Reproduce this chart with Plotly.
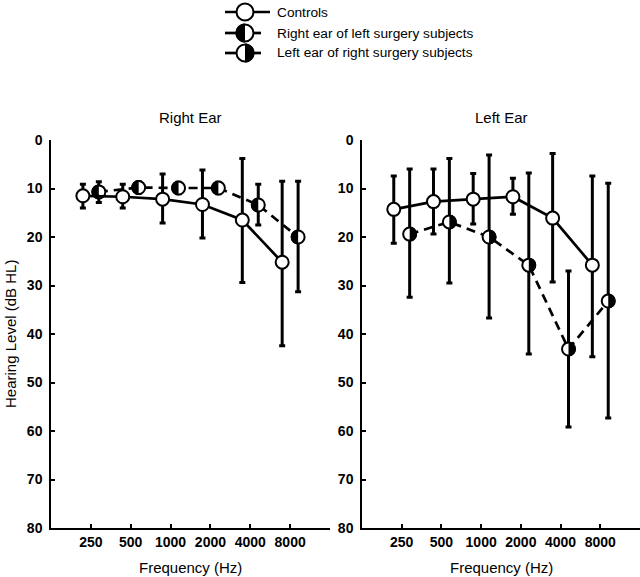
import plotly.graph_objects as go
import numpy as np

# ---------------- data ----------------
freq_labels = ["250", "500", "1000", "2000", "4000", "8000"]

# Right ear panel
re_ctrl_mean = [11.5, 11.7, 12.2, 13.3, 16.5, 25.2]
re_ctrl_top = [9.1, 9.1, 7.0, 6.2, 3.8, 8.5]
re_ctrl_bot = [14.0, 14.0, 17.1, 20.2, 29.4, 42.4]
re_surg_mean = [10.7, 9.8, 9.9, 9.9, 13.4, 20.0]
re_surg_top = [8.6, 8.6, 8.7, 8.7, 9.1, 8.5]
re_surg_bot = [12.9, 11.0, 11.1, 11.1, 17.5, 31.3]

# Left ear panel
le_ctrl_mean = [14.3, 12.7, 12.2, 11.7, 16.1, 25.8]
le_ctrl_top = [7.4, 6.0, 6.9, 7.9, 2.8, 7.4]
le_ctrl_bot = [21.3, 19.4, 17.3, 15.3, 29.3, 44.7]
le_surg_mean = [19.4, 16.9, 20.0, 25.8, 43.1, 33.2]
le_surg_top = [6.0, 3.8, 3.1, 6.8, 27.0, 8.9]
le_surg_bot = [32.4, 29.5, 36.7, 44.1, 59.2, 57.3]

legend_names = ["Controls", "Right ear of left surgery subjects", "Left ear of right surgery subjects"]
panel_titles = ["Right Ear", "Left Ear"]
y_ticks = [0, 10, 20, 30, 40, 50, 60, 70, 80]

# ---------------- layout geometry ----------------
W, H = 640, 577
L, R, T, B = 51, 0, 140, 49
pw = W - L - R
ph = H - T - B


def px(xs):
    return (xs - L) / pw


def py(ys):
    return (H - B - ys) / ph


FONT = "Liberation Sans, Arial, sans-serif"
OFF = 0.2
MS = 13

fig = go.Figure()
shapes = []
annotations = []


def half_path(r, side):
    if side == "left":
        th = np.linspace(np.pi / 2, 3 * np.pi / 2, 25)
    else:
        th = np.linspace(-np.pi / 2, np.pi / 2, 25)
    pts = [f"{r*np.cos(t):.2f},{r*np.sin(t):.2f}" for t in th]
    return "M " + " L ".join(pts) + " Z"


def add_panel(xa, ya, cm, ct, cb, sm, st, sb, side):
    n = len(freq_labels)
    idx = np.arange(n)
    xc = idx - OFF
    xs = idx + OFF
    cm_a, sm_a = np.array(cm), np.array(sm)
    fig.add_trace(go.Scatter(
        x=xs, y=sm_a, xaxis=xa, yaxis=ya, mode="lines+markers",
        line=dict(color="black", width=2.7, dash="9px,6px"),
        marker=dict(symbol="circle", size=MS, color="white", line=dict(color="black", width=2)),
        error_y=dict(type="data", symmetric=False, array=np.array(sb) - sm_a,
                     arrayminus=sm_a - np.array(st), color="black", thickness=3, width=3),
        showlegend=False, hoverinfo="skip"))
    fig.add_trace(go.Scatter(
        x=xc, y=cm_a, xaxis=xa, yaxis=ya, mode="lines+markers",
        line=dict(color="black", width=2.7),
        marker=dict(symbol="circle", size=MS, color="white", line=dict(color="black", width=2)),
        error_y=dict(type="data", symmetric=False, array=np.array(cb) - cm_a,
                     arrayminus=cm_a - np.array(ct), color="black", thickness=3, width=3),
        showlegend=False, hoverinfo="skip"))
    for x, y in zip(xs, sm_a):
        shapes.append(dict(type="path", xref=xa, yref=ya, xsizemode="pixel", ysizemode="pixel",
                           xanchor=float(x), yanchor=float(y), path=half_path(7.3, side),
                           fillcolor="black", line=dict(width=0), layer="above"))


add_panel("x", "y", re_ctrl_mean, re_ctrl_top, re_ctrl_bot,
          re_surg_mean, re_surg_top, re_surg_bot, "left")
add_panel("x2", "y2", le_ctrl_mean, le_ctrl_top, le_ctrl_bot,
          le_surg_mean, le_surg_top, le_surg_bot, "right")

axis_common = dict(showline=True, linecolor="black", linewidth=1.5, ticks="inside",
                   ticklen=4, tickwidth=1.5, tickcolor="black", showgrid=False, zeroline=False,
                   tickfont=dict(family=FONT, size=14, color="black", weight="bold"))

xd1 = [0, px(330)]
xd2 = [px(362), 1]

fig.update_layout(
    width=W, height=H, margin=dict(l=L, r=R, t=T, b=B),
    plot_bgcolor="white", paper_bgcolor="white",
    xaxis=dict(domain=xd1, range=[-1, 6], tickmode="array", tickvals=list(range(len(freq_labels))),
               ticktext=freq_labels, anchor="y", **axis_common),
    yaxis=dict(domain=[0, 1], range=[80, 0], tickmode="array", tickvals=y_ticks,
               anchor="x", ticklabelstandoff=4, **axis_common),
    xaxis2=dict(domain=xd2, range=[-1, 6], tickmode="array", tickvals=list(range(len(freq_labels))),
                ticktext=freq_labels, anchor="y2", **axis_common),
    yaxis2=dict(domain=[0, 1], range=[80, 0], tickmode="array", tickvals=y_ticks,
                anchor="x2", ticklabelstandoff=4, **axis_common),
    showlegend=False,
)

for d, t in zip([xd1, xd2], panel_titles):
    annotations.append(dict(x=(d[0] + d[1]) / 2, y=py(117), xref="paper", yref="paper",
                            text=t, showarrow=False, xanchor="center", yanchor="middle",
                            font=dict(family=FONT, size=15, color="black")))
    annotations.append(dict(x=(d[0] + d[1]) / 2, y=py(567), xref="paper", yref="paper",
                            text="Frequency (Hz)", showarrow=False, xanchor="center", yanchor="middle",
                            font=dict(family=FONT, size=15, color="black")))
annotations.append(dict(x=px(10), y=py(334), xref="paper", yref="paper", text="Hearing Level (dB HL)",
                        textangle=-90, showarrow=False, xanchor="center", yanchor="middle",
                        font=dict(family=FONT, size=15, color="black")))

# manual legend
rows_y = [12, 33, 53]
cx = 245
for i, (name, yy) in enumerate(zip(legend_names, rows_y)):
    if i == 0:
        shapes.append(dict(type="line", xref="paper", yref="paper", x0=px(225), x1=px(270),
                           y0=py(yy), y1=py(yy), line=dict(color="black", width=2.7)))
    else:
        shapes.append(dict(type="line", xref="paper", yref="paper", x0=px(225), x1=px(240),
                           y0=py(yy), y1=py(yy), line=dict(color="black", width=2.7)))
        shapes.append(dict(type="line", xref="paper", yref="paper", x0=px(250), x1=px(261),
                           y0=py(yy), y1=py(yy), line=dict(color="black", width=2.7)))
    shapes.append(dict(type="circle", xref="paper", yref="paper", xsizemode="pixel", ysizemode="pixel",
                       xanchor=px(cx), yanchor=py(yy), x0=-8.5, x1=8.5, y0=-8.5, y1=8.5,
                       fillcolor="white", line=dict(color="black", width=2)))
    if i > 0:
        shapes.append(dict(type="path", xref="paper", yref="paper", xsizemode="pixel", ysizemode="pixel",
                           xanchor=px(cx), yanchor=py(yy), path=half_path(9.5, "left" if i == 1 else "right"),
                           fillcolor="black", line=dict(width=0)))
    annotations.append(dict(x=px(275), y=py(yy), xref="paper", yref="paper", text=name,
                            showarrow=False, xanchor="left", yanchor="middle",
                            font=dict(family=FONT, size=13.7, color="black")))

fig.update_layout(shapes=shapes, annotations=annotations)
fig.write_html("out.html", config={"displayModeBar": False},
               post_script="document.body.style.margin='0';document.body.style.padding='0';")
